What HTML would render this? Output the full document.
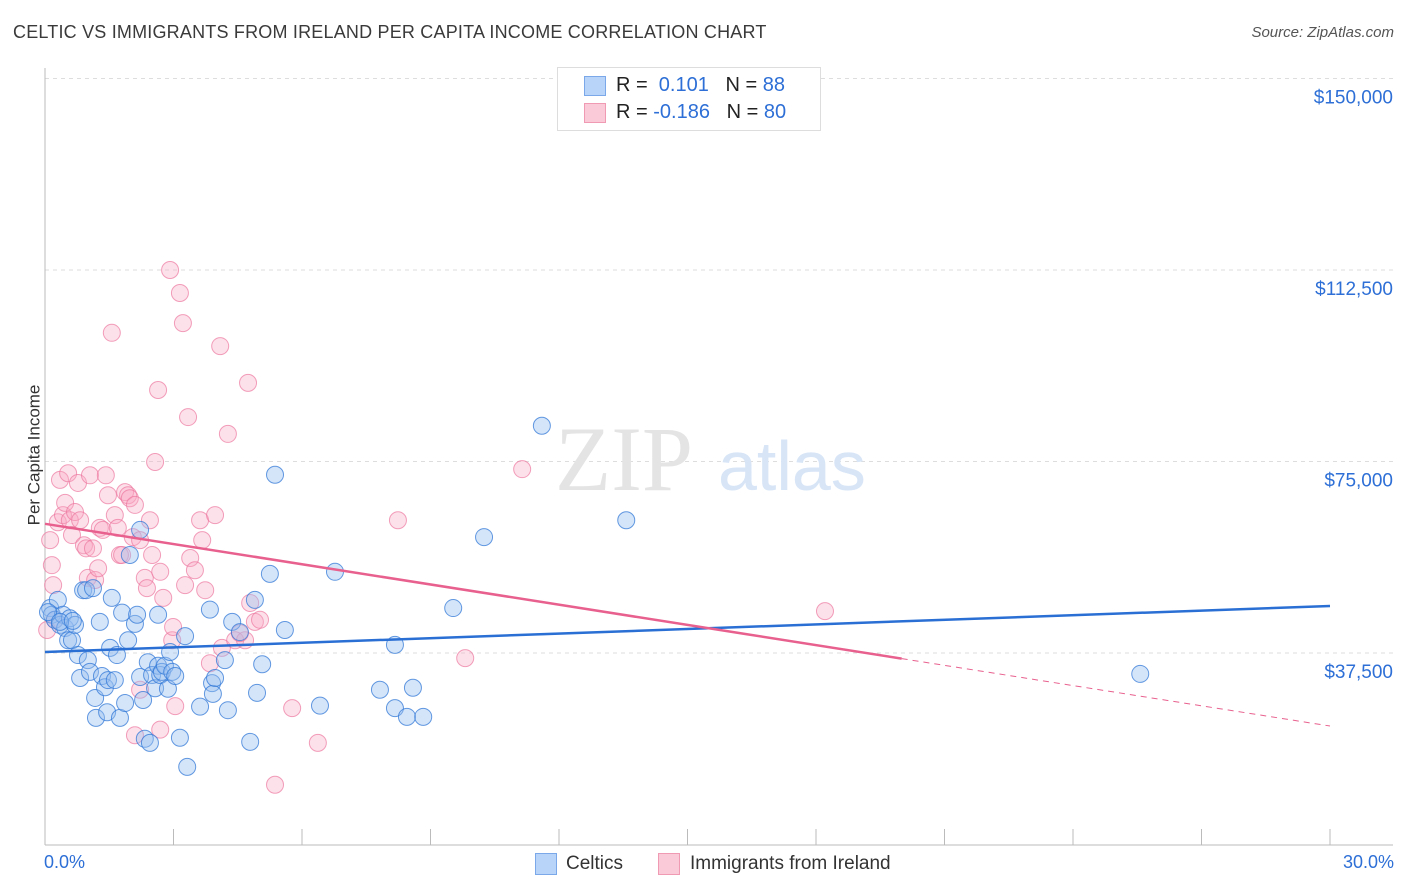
<!DOCTYPE html>
<html><head><meta charset="utf-8">
<style>
body{margin:0;background:#fff;font-family:"Liberation Sans",sans-serif;}
#wrap{position:relative;width:1406px;height:892px;overflow:hidden;}
.t{position:absolute;white-space:nowrap;}
</style></head>
<body>
<div id="wrap">
<div class="t" style="left:13px;top:22px;font-size:18px;color:#3a3a3a;letter-spacing:0.2px;">CELTIC VS IMMIGRANTS FROM IRELAND PER CAPITA INCOME CORRELATION CHART</div>
<div class="t" style="right:12px;top:24px;font-size:15px;color:#555;font-style:italic;">Source: ZipAtlas.com</div>
<div class="t" style="left:-36px;top:445px;font-size:17px;color:#333;transform:rotate(-90deg);">Per Capita Income</div>
<svg id="svg" width="1406" height="892" style="position:absolute;left:0;top:0"></svg>
<div style="position:absolute;left:557px;top:67px;width:262px;height:62px;border:1px solid #ddd;background:#fff;">
 <div style="position:absolute;left:26px;top:8px;width:20px;height:18px;background:#b8d4f8;border:1px solid #7aa8e8;"></div>
 <div class="t" style="left:58px;top:6px;font-size:20px;color:#222;">R = &nbsp;<span style="color:#2d6fd6">0.101</span>&nbsp;&nbsp; N = <span style="color:#2d6fd6">88</span></div>
 <div style="position:absolute;left:26px;top:35px;width:20px;height:18px;background:#fbcad8;border:1px solid #f09ab4;"></div>
 <div class="t" style="left:58px;top:33px;font-size:20px;color:#222;">R = <span style="color:#2d6fd6">-0.186</span>&nbsp;&nbsp; N = <span style="color:#2d6fd6">80</span></div>
</div>
<div class="t" style="left:44px;top:852px;font-size:18px;color:#2d6fd6;">0.0%</div>
<div class="t" style="right:12px;top:852px;font-size:18px;color:#2d6fd6;">30.0%</div>
<div style="position:absolute;left:535px;top:853px;width:20px;height:20px;background:#b8d4f8;border:1px solid #7aa8e8;"></div>
<div class="t" style="left:566px;top:853px;font-size:19px;color:#333;">Celtics</div>
<div style="position:absolute;left:658px;top:853px;width:20px;height:20px;background:#fbcad8;border:1px solid #f09ab4;"></div>
<div class="t" style="left:690px;top:853px;font-size:19px;color:#333;">Immigrants from Ireland</div>
</div>
<script>
const yTicks=[150000,112500,75000,37500];
const yTickLabels=["$150,000","$112,500","$75,000","$37,500"];
const blueX=[0.12,0.16,0.23,0.30,0.35,0.42,0.47,0.54,0.58,0.63,0.70,0.77,0.82,0.89,0.96,1.0,1.05,1.12,1.17,1.19,1.28,1.33,1.40,1.45,1.47,1.52,1.56,1.63,1.68,1.75,1.80,1.87,1.94,1.98,2.10,2.15,2.22,2.22,2.29,2.33,2.40,2.45,2.50,2.57,2.64,2.64,2.69,2.73,2.80,2.87,2.92,2.97,3.04,3.15,3.27,3.32,3.62,3.85,3.90,3.92,3.97,4.20,4.27,4.37,4.55,4.79,4.90,4.95,5.07,5.25,5.37,5.60,6.42,6.77,7.82,8.17,8.17,8.45,8.59,8.83,9.53,10.25,11.60,13.57,25.57,0.07,0.35,0.65];
const blueY=[46.3,45.0,44.0,47.9,43.0,45.0,42.4,40.0,44.3,40.0,43.0,37.1,32.6,49.8,49.8,36.1,33.8,50.2,28.7,24.8,43.6,33.0,30.8,25.9,32.2,38.5,48.3,32.2,37.1,24.8,45.4,27.7,40.0,56.7,43.2,45.0,32.8,61.6,28.3,20.7,35.7,19.9,33.2,30.6,45.0,35.0,33.2,33.8,35.0,30.5,37.7,33.8,33.0,20.9,40.8,15.2,27.0,46.0,31.6,29.5,32.6,36.1,26.3,43.6,41.6,20.1,47.9,29.7,35.3,53.0,72.4,42.0,27.2,53.4,30.3,39.1,26.7,25.0,30.7,25.0,46.3,60.2,82.0,63.5,33.4,45.5,43.6,43.8];
const pinkX=[0.12,0.16,0.19,0.30,0.35,0.42,0.47,0.54,0.58,0.63,0.70,0.77,0.82,0.91,0.96,1.00,1.05,1.12,1.17,1.24,1.28,1.35,1.42,1.47,1.56,1.63,1.70,1.75,1.80,1.87,1.94,1.98,2.05,2.10,2.22,2.33,2.38,2.45,2.50,2.57,2.64,2.69,2.76,2.92,2.97,2.99,3.04,3.15,3.22,3.27,3.34,3.39,3.50,3.62,3.67,3.74,3.85,3.97,4.09,4.13,4.27,4.44,4.67,4.74,4.79,4.90,5.02,5.37,5.77,6.37,8.24,9.81,11.14,18.21,0.23,2.10,2.22,2.69,4.55,0.05];
const pinkY=[59.6,54.7,50.8,63.1,71.4,64.5,66.9,72.7,63.5,60.6,65.1,70.8,63.5,58.6,58.0,52.2,72.3,58.0,51.8,54.1,62.0,61.6,72.3,68.4,100.2,64.5,62.0,56.7,56.7,69.0,68.4,67.8,60.2,66.5,59.6,52.2,50.2,63.5,56.7,74.9,89.0,53.4,48.3,112.5,40.0,42.6,27.1,108.0,102.1,50.8,83.7,56.1,53.7,63.5,59.6,49.8,35.5,64.5,97.6,38.5,80.4,40.0,40.0,90.4,47.3,43.6,44.0,11.7,26.7,19.9,63.5,36.5,73.5,45.7,44.0,21.4,30.3,22.5,41.4,42.0];
const blueTrend=[37.7,46.7];
const pinkTrend=[62.8,23.2];
const pinkSolidEnd=20.0;

const NS="http://www.w3.org/2000/svg";
const svg=document.getElementById('svg');
const X0=45,X1=1330,Y0=844.5,PXK=191.5/37.5;
const sx=v=>X0+(v/30)*(X1-X0);
const sy=k=>Y0-k*PXK;
function mk(tag,attrs){const e=document.createElementNS(NS,tag);for(const k in attrs)e.setAttribute(k,attrs[k]);svg.appendChild(e);return e;}
yTicks.forEach((t,i)=>{
 const y=sy(t/1000);
 const g=mk('line',{x1:45,x2:1393,y1:y,y2:y,stroke:'#ddd','stroke-dasharray':'4,4'});
 
 
 const tx=mk('text',{x:1393,y:y+25,'text-anchor':'end','font-size':19,fill:'#2d6fd6','font-family':'Liberation Sans, sans-serif'});
 tx.textContent=yTickLabels[i];
 
 
});
const ax=mk('line',{x1:45,x2:45,y1:68,y2:845,stroke:'#bbb'});


const bx=mk('line',{x1:45,x2:1393,y1:845,y2:845,stroke:'#bbb'});


for(let i=1;i<=10;i++){
 const x=sx(i*3);
 const tk=mk('line',{x1:x,x2:x,y1:829,y2:845,stroke:'#bbb'});
 
 
}
const wm=mk('text',{x:555,y:490,'font-size':92,fill:'#e4e4e4','font-family':'Liberation Serif, serif'});
wm.textContent='ZIP';


const wm2=mk('text',{x:718,y:490,'font-size':70,fill:'#d7e5f7','font-family':'Liberation Sans, sans-serif'});
wm2.textContent='atlas';


pinkX.forEach((v,i)=>{
 const c=mk('circle',{cx:sx(v),cy:sy(pinkY[i]),r:8.5,fill:'rgba(248,170,195,0.35)',stroke:'rgba(236,120,160,0.7)','stroke-width':1});
 
 
});
blueX.forEach((v,i)=>{
 const c=mk('circle',{cx:sx(v),cy:sy(blueY[i]),r:8.5,fill:'rgba(150,190,240,0.4)',stroke:'rgba(50,120,215,0.75)','stroke-width':1});
 
 
});
const bt=mk('line',{x1:sx(0),y1:sy(blueTrend[0]),x2:sx(30),y2:sy(blueTrend[1]),stroke:'#2a6fd4','stroke-width':2.5});


const pAt=x=>pinkTrend[0]+(pinkTrend[1]-pinkTrend[0])*x/30;
const pt=mk('line',{x1:sx(0),y1:sy(pAt(0)),x2:sx(pinkSolidEnd),y2:sy(pAt(pinkSolidEnd)),stroke:'#e8608e','stroke-width':2.5});


const pd=mk('line',{x1:sx(pinkSolidEnd),y1:sy(pAt(pinkSolidEnd)),x2:sx(30),y2:sy(pAt(30)),stroke:'#e8608e','stroke-width':1,'stroke-dasharray':'6,5'});


</script>
</body></html>
